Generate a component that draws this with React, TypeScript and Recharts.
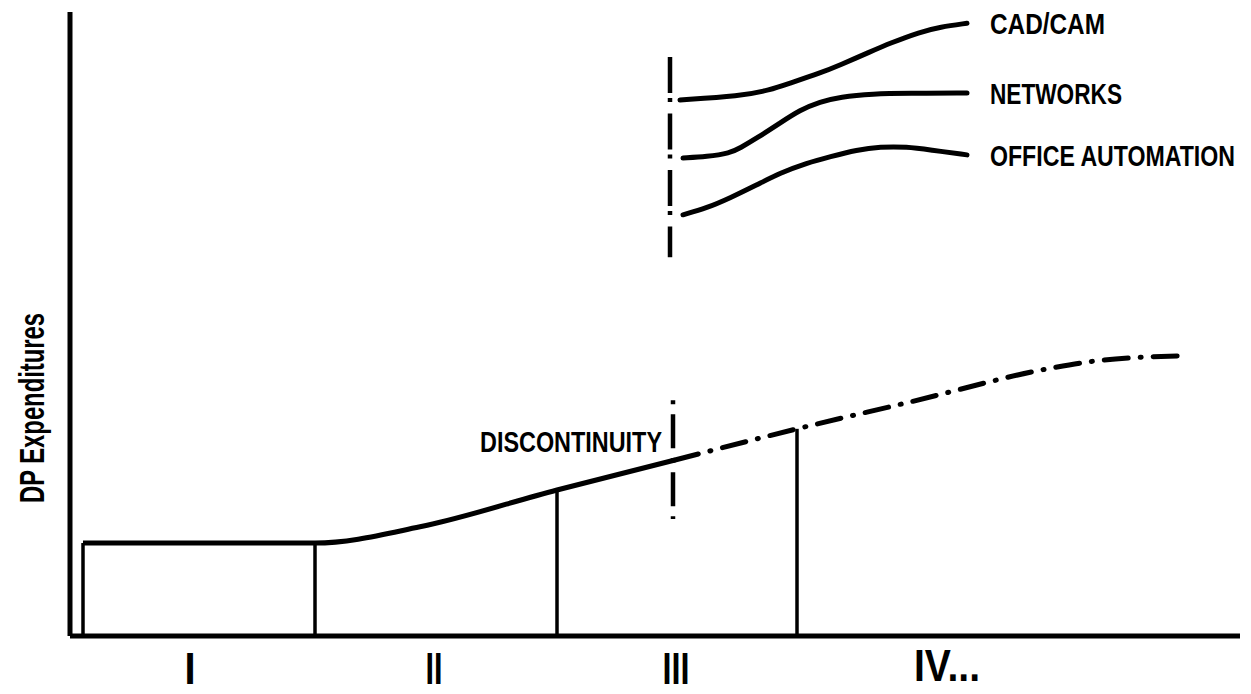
import React from 'react';
import { ComposedChart, Line, XAxis, YAxis, ReferenceLine, ReferenceDot, LabelList, Label } from 'recharts';

// Phases along the time axis
const phaseLabels = ['I', 'II', 'III', 'IV...'];
const phaseTicks = [12, 36.4, 60.6, 87.7];

// Main DP expenditure curve (solid part, up to the discontinuity)
const mainSolidT = [1.3, 24.5, 35, 48.7, 60.5];
const mainSolidV = [14.9, 14.9, 17.5, 23.4, 28.2];

// Main curve after the discontinuity (dash-dot projection)
const mainDashT = [60.5, 72.7, 84, 98, 101.7, 106.3, 111];
const mainDashV = [28.2, 33.2, 37.5, 42.9, 43.9, 44.6, 44.9];

// Phase boundaries (vertical drop lines)
const boundaryT = [1.3, 24.5, 48.7, 72.7];
const boundaryV = [14.9, 14.9, 23.4, 33.2];

// New technology curves
const cadT = [61, 67, 70, 72, 75, 77, 80, 82, 85, 87, 89.7];
const cadV = [85.9, 86.5, 87.5, 88.6, 90.2, 91.5, 93.6, 95.0, 96.8, 97.6, 98.2];
const netT = [61.3, 63.7, 66, 67, 68.7, 71, 73, 75, 77, 80.3, 83.7, 89.7];
const netV = [76.6, 76.8, 77.4, 78.2, 79.8, 82.2, 84.3, 85.6, 86.4, 86.9, 87.0, 87.0];
const oaT = [61.3, 63.7, 66, 68.7, 71, 73.7, 76, 78.7, 81, 83.7, 86, 89.7];
const oaV = [67.5, 68.6, 70.2, 72.3, 74.2, 75.8, 76.8, 77.9, 78.4, 78.4, 77.9, 77.1];

// Discontinuity markers
const upperDiscT = 60;
const upperDiscV = [92.8, 60.7];
const lowerDiscT = 60.3;
const lowerDiscV = [37.8, 18.75];
const discLabelT = 59.2;
const discLabelV = 29.5;

const zip = (t: number[], v: number[]) => t.map((x, i) => ({ t: x, v: v[i] }));

const mainSolid = zip(mainSolidT, mainSolidV);
const mainDash = zip(mainDashT, mainDashV);
const cad = zip(cadT, cadV);
const net = zip(netT, netV);
const oa = zip(oaT, oaV);

const FONT = '"Liberation Sans", Arial, sans-serif';

// tick label styling (hand-lettered look)
const phaseWidths = [0, 17, 27, 66];
const phaseBaseline = [48, 48, 48, 45];

// Condensed bold lettering: small font stretched vertically, exact width
const Condensed = ({ x, y, text, width, size, stretch, anchor = 'start', rotate = 0 }: any) => (
  <text
    transform={`translate(${x}, ${y}) rotate(${rotate}) scale(1, ${stretch})`}
    x={0}
    y={0}
    textAnchor={anchor}
    fontFamily={FONT}
    fontWeight="bold"
    fontSize={size}
    fill="#000"
    {...(width ? { textLength: width, lengthAdjust: 'spacingAndGlyphs' } : {})}
  >
    {text}
  </text>
);

const endLabel = (text: string, len: number, last: number) => (props: any) => {
  const { x, y, index } = props;
  if (index !== last) return null;
  return <Condensed x={x + 23} y={y + 11} text={text} width={len} size={23} stretch={1.27} />;
};

const PhaseTick = (props: any) => {
  const { x, y, payload } = props;
  const i = phaseTicks.indexOf(payload.value);
  return (
    <Condensed
      x={x}
      y={y + phaseBaseline[i]}
      text={phaseLabels[i]}
      width={phaseWidths[i]}
      size={40}
      stretch={1.1}
      anchor="middle"
    />
  );
};

const YTitle = (props: any) => {
  const vb = props.viewBox || { x: 0, y: 12, width: 70, height: 624 };
  return (
    <Condensed
      x={vb.x + 44}
      y={vb.y + 396}
      text="DP Expenditures"
      width={190}
      size={24}
      stretch={1.45}
      anchor="middle"
      rotate={-90}
    />
  );
};

const DiscLabel = (props: any) => {
  const vb = props.viewBox;
  return <Condensed x={vb.x} y={vb.y} text="DISCONTINUITY" width={182} size={23} stretch={1.27} anchor="end" />;
};

export default function App() {
  return (
    <div style={{ position: 'absolute', left: 0, top: 0, background: '#fff' }}>
      <ComposedChart width={1251} height={694} margin={{ top: 12, right: 11, bottom: 0, left: 0 }}>
        <XAxis
          dataKey="t"
          type="number"
          domain={[0, 117]}
          ticks={phaseTicks}
          interval={0}
          height={58}
          tickLine={false}
          tickSize={0}
          tickMargin={0}
          axisLine={{ stroke: '#000', strokeWidth: 5 }}
          tick={<PhaseTick />}
          allowDataOverflow
        />
        <YAxis
          type="number"
          domain={[0, 100]}
          width={70}
          tick={false}
          tickLine={false}
          axisLine={{ stroke: '#000', strokeWidth: 5 }}
          label={<Label content={<YTitle />} />}
          allowDataOverflow
        />
        {boundaryT.map((t, i) => (
          <ReferenceLine
            key={`b${i}`}
            segment={[{ x: t, y: 0 }, { x: t, y: boundaryV[i] }]}
            stroke="#000"
            strokeWidth={3.5}
          />
        ))}
        <ReferenceLine
          segment={[{ x: upperDiscT, y: upperDiscV[0] }, { x: upperDiscT, y: upperDiscV[1] }]}
          stroke="#000"
          strokeWidth={4.5}
          strokeDasharray="36 5 4 11.5"
        />
        <ReferenceLine
          segment={[{ x: lowerDiscT, y: lowerDiscV[0] }, { x: lowerDiscT, y: lowerDiscV[1] }]}
          stroke="#000"
          strokeWidth={4.5}
          strokeDasharray="4 10 34 10"
        />
        <ReferenceDot x={discLabelT} y={discLabelV} r={0} stroke="none" fill="none" label={<Label content={<DiscLabel />} />} />
        <Line data={mainSolid} dataKey="v" type="monotone" stroke="#000" strokeWidth={5} dot={false} isAnimationActive={false} />
        <Line
          data={mainDash}
          dataKey="v"
          type="monotone"
          stroke="#000"
          strokeWidth={5}
          strokeLinecap="round"
          strokeDasharray="24 12 1 12"
          dot={false}
          isAnimationActive={false}
        />
        <Line data={cad} dataKey="v" type="basis" stroke="#000" strokeWidth={5} strokeLinecap="round" dot={false} isAnimationActive={false}>
          <LabelList dataKey="v" content={endLabel('CAD/CAM', 115, cad.length - 1)} />
        </Line>
        <Line data={net} dataKey="v" type="basis" stroke="#000" strokeWidth={5} strokeLinecap="round" dot={false} isAnimationActive={false}>
          <LabelList dataKey="v" content={endLabel('NETWORKS', 132, net.length - 1)} />
        </Line>
        <Line data={oa} dataKey="v" type="basis" stroke="#000" strokeWidth={5} strokeLinecap="round" dot={false} isAnimationActive={false}>
          <LabelList dataKey="v" content={endLabel('OFFICE AUTOMATION', 245, oa.length - 1)} />
        </Line>
      </ComposedChart>
    </div>
  );
}
